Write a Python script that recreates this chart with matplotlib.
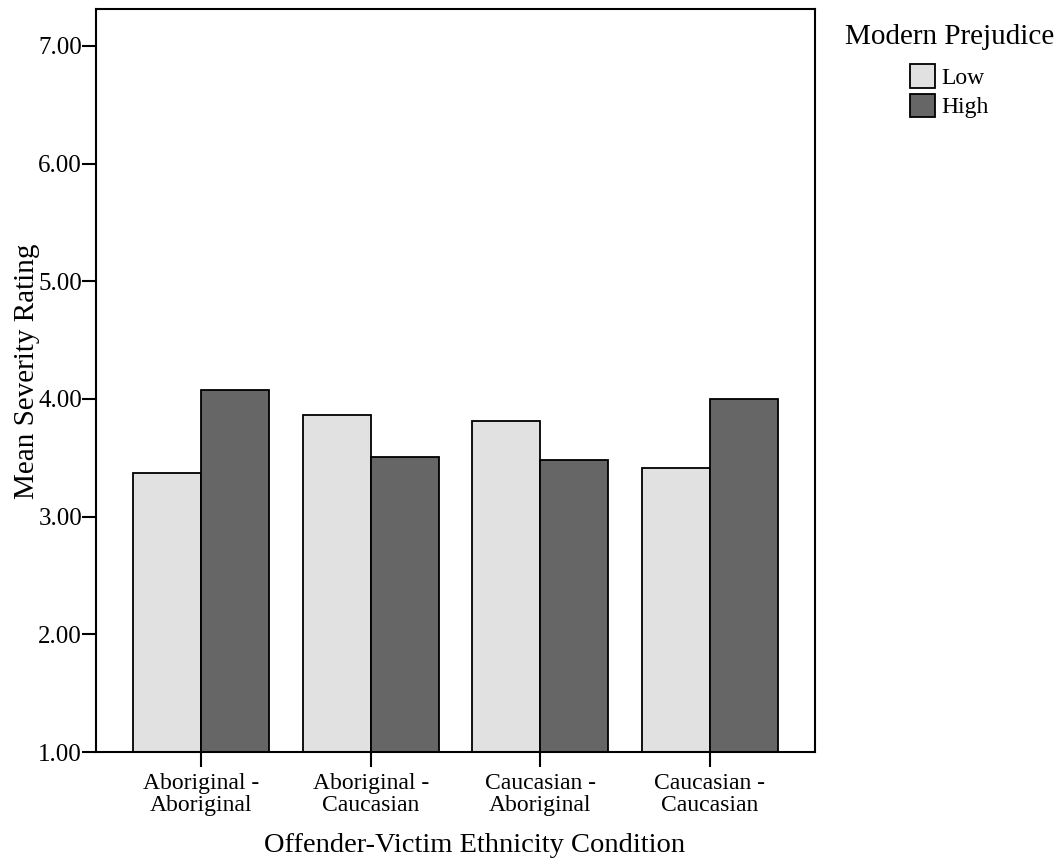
import matplotlib
matplotlib.use('Agg')
import matplotlib.pyplot as plt
import numpy as np

plt.rcParams['font.family'] = ['Liberation Serif', 'DejaVu Serif']

conditions = ['Aboriginal -\nAboriginal', 'Aboriginal -\nCaucasian',
              'Caucasian -\nAboriginal', 'Caucasian -\nCaucasian']
low_means = [3.37, 3.86, 3.81, 3.41]
high_means = [4.08, 3.51, 3.48, 4.00]
yticks = [1, 2, 3, 4, 5, 6, 7]

fig = plt.figure(figsize=(10.63, 8.65), dpi=100)
ax = fig.add_axes([0.0903, 0.1306, 0.6764, 0.859])

x = np.arange(len(conditions))
w = 0.4
base = 1.0
ax.bar(x - w / 2, np.array(low_means) - base, w, bottom=base, color='#e1e1e1',
       edgecolor='black', linewidth=1.3, label='Low')
ax.bar(x + w / 2, np.array(high_means) - base, w, bottom=base, color='#666666',
       edgecolor='black', linewidth=1.3, label='High')

ax.set_xlim(-0.62, 3.62)
ax.set_ylim(1.0, 7.313)
ax.set_yticks(yticks)
ax.set_yticklabels(['%.2f' % v for v in yticks], fontsize=18)
ax.set_xticks(x)
ax.set_xticklabels(conditions, fontsize=17, linespacing=1.05)
ax.tick_params(axis='both', direction='out', length=10, width=1.5)
ax.tick_params(axis='x', length=11, pad=4)
ax.tick_params(axis='y', pad=0)
for s in ax.spines.values():
    s.set_linewidth(1.5)

ax.set_ylabel('Mean Severity Rating', fontsize=21)
ax.set_xlabel('Offender-Victim Ethnicity Condition', fontsize=20.5)
ax.yaxis.set_label_coords(-0.0785, 0.513)
ax.xaxis.set_label_coords(0.526, -0.135)
ax.xaxis.label.set_va('baseline')

leg = ax.legend(loc='upper left', bbox_to_anchor=(1.028, 0.992), frameon=False,
                title='Modern Prejudice', fontsize=17, title_fontsize=21,
                handlelength=1.05, handleheight=1.15, handletextpad=0.25,
                labelspacing=0.2, borderaxespad=0)
leg._legend_box.align = 'center'
leg._legend_box.sep = 10

fig.savefig('out.png', dpi=100)
